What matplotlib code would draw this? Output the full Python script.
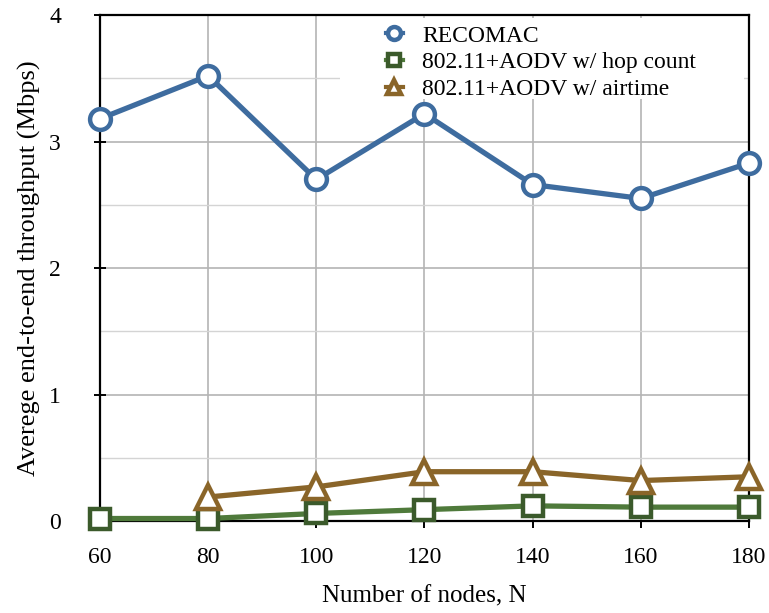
import matplotlib
matplotlib.use("Agg")
import matplotlib.pyplot as plt
from matplotlib.ticker import MultipleLocator
from matplotlib.patches import Rectangle

nodes = [60, 80, 100, 120, 140, 160, 180]
recomac = [3.18, 3.52, 2.70, 3.22, 2.66, 2.55, 2.83]
hop_nodes = [60, 80, 100, 120, 140, 160, 180]
hop_count = [0.02, 0.02, 0.06, 0.09, 0.12, 0.11, 0.11]
air_nodes = [80, 100, 120, 140, 160, 180]
airtime = [0.19, 0.27, 0.39, 0.39, 0.32, 0.35]

plt.rcParams['font.family'] = ['Liberation Serif', 'DejaVu Serif']

fig = plt.figure(figsize=(7.69, 6.13), dpi=100)
ax = fig.add_axes([0.130, 0.150, 0.844, 0.8255])

blue = '#3e6c9f'
green_line = '#4f7a3b'
green_edge = '#3b5a2b'
brown = '#8a6529'

ax.plot(nodes, recomac, '-o', color=blue, lw=3.8, ms=15, mew=3.2,
        mfc='white', mec=blue, label='RECOMAC', clip_on=False, zorder=5)
ax.plot(hop_nodes, hop_count, '-s', color=green_line, lw=3.8, ms=15, mew=3.2,
        mfc='white', mec=green_edge, label='802.11+AODV w/ hop count', clip_on=False, zorder=5)
ax.plot(air_nodes, airtime, '-^', color=brown, lw=3.8, ms=17, mew=3.2,
        mfc='white', mec=brown, label='802.11+AODV w/ airtime', clip_on=False, zorder=5)

ax.set_xlim(60, 180)
ax.set_ylim(0, 4)
ax.set_xticks(nodes)
ax.yaxis.set_major_locator(MultipleLocator(1))
ax.yaxis.set_minor_locator(MultipleLocator(0.5))
ax.grid(True, which='major', color='#b4b4b4', lw=1.2)
ax.grid(True, which='minor', axis='y', color='#d4d4d4', lw=1.0)
ax.set_axisbelow(True)

# white area behind the legend hides the grid there
ax.add_patch(Rectangle((0.370, 0.834), 0.622, 0.160, transform=ax.transAxes,
                       facecolor='white', edgecolor='none', zorder=1))

for s in ax.spines.values():
    s.set_linewidth(1.6)
    s.set_color('black')

ax.tick_params(axis='y', which='major', direction='inout', length=8, width=1.4,
               labelsize=17, pad=24)
ax.tick_params(axis='y', which='minor', length=0)
ax.tick_params(axis='x', which='major', direction='out', length=5, width=1.4,
               labelsize=17, pad=14)

ax.set_xlabel('Number of nodes, N', fontsize=18, labelpad=12)
ax.set_ylabel('Averege end-to-end throughput (Mbps)', fontsize=19, labelpad=6)

leg = ax.legend(loc='upper left', bbox_to_anchor=(0.44, 0.980), fontsize=17,
                frameon=False, markerscale=0.62, handlelength=0.75,
                borderpad=0.0, labelspacing=0.22, handletextpad=0.8,
                borderaxespad=0.0)
for h in leg.legend_handles:
    h.set_linewidth(3)
leg.set_zorder(6)

fig.savefig('out.png', dpi=100)
